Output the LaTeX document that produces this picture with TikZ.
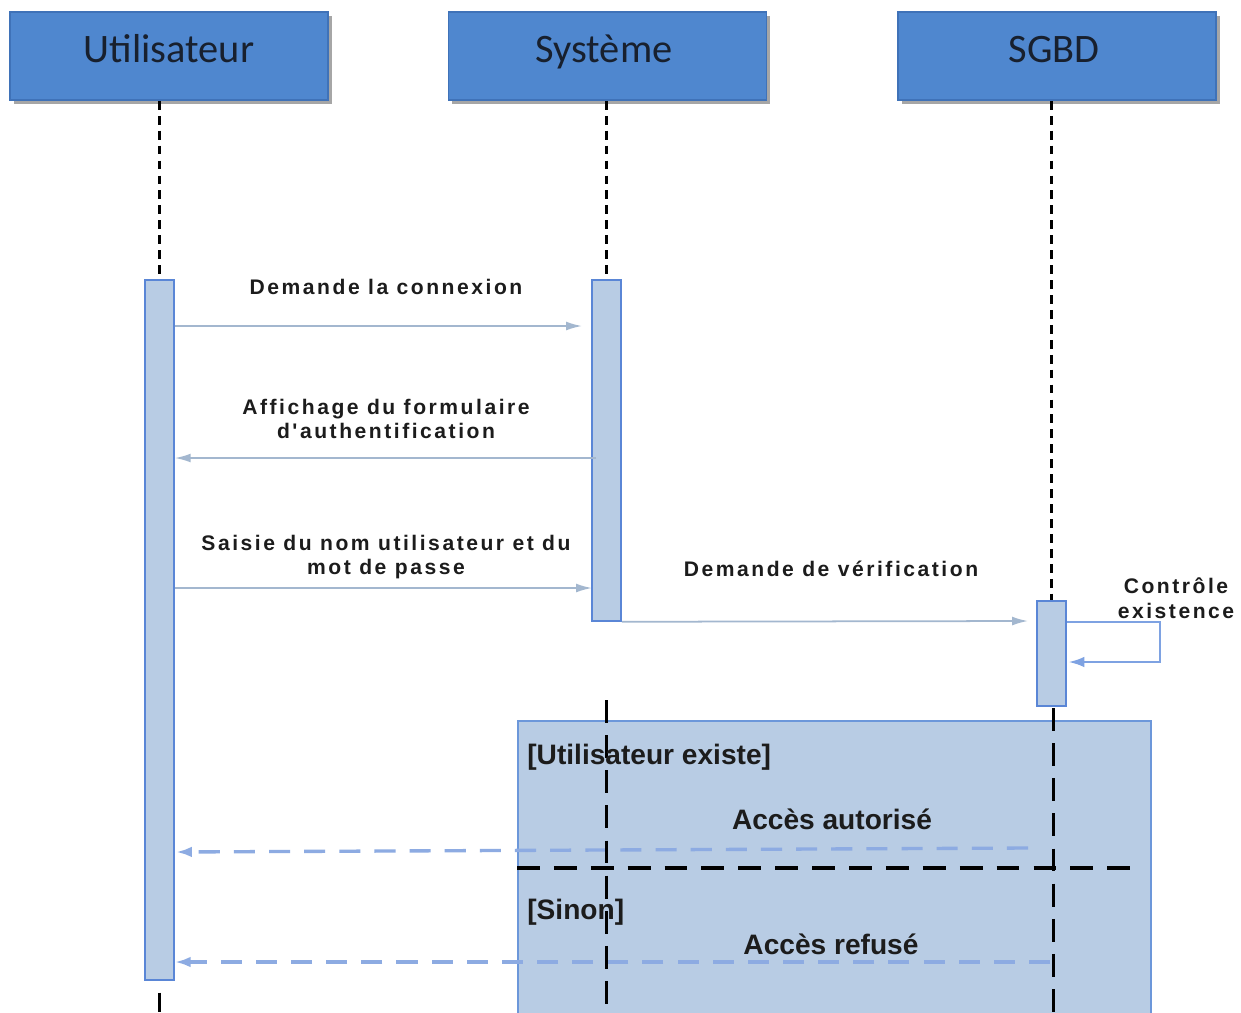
\documentclass[tikz,border=0pt]{standalone}
\usepackage{fontspec}
\setmainfont{Liberation Sans}
\newfontfamily\hdrfont{Carlito}
\newfontfamily\lblfont[LetterSpace=12]{Liberation Sans}
\usetikzlibrary{arrows.meta,shadows}
\definecolor{hdrfill}{HTML}{4F87CF}
\definecolor{hdrdraw}{HTML}{3F72B8}
\definecolor{actfill}{HTML}{B8CCE4}
\definecolor{actdraw}{HTML}{5A86D6}
\definecolor{msgcol}{HTML}{A3B7CF}
\definecolor{selfcol}{HTML}{7EA2E2}
\definecolor{framefill}{HTML}{B8CCE4}
\definecolor{framedraw}{HTML}{6C97DA}
\definecolor{replycol}{HTML}{8DABE2}
\definecolor{txt}{HTML}{1C1C1C}
\definecolor{hdrtxt}{HTML}{18202E}
\begin{document}
\begin{tikzpicture}[x=0.02cm,y=-0.02cm,
  hdr/.style={rectangle,fill=hdrfill,draw=hdrdraw,line width=1pt,minimum width=6.36cm,minimum height=1.76cm,
    drop shadow={shadow xshift=2.2pt,shadow yshift=-2.2pt,fill=black,opacity=0.35}},
  hdrtext/.style={font=\hdrfont\fontsize{23}{26}\selectfont,text=hdrtxt,inner sep=0pt,anchor=base},
  act/.style={rectangle,fill=actfill,draw=actdraw,line width=0.9pt,minimum width=0.58cm,inner sep=0pt},
  life/.style={black,line width=1.3pt,dash pattern=on 5pt off 3.5pt},
  lifein/.style={black,line width=1.7pt,dash pattern=on 13pt off 7pt},
  msg/.style={msgcol,line width=1pt,-{Latex[length=9pt,width=5pt]}},
  selfmsg/.style={selfcol,line width=1.3pt,-{Latex[length=9pt,width=6pt]}},
  reply/.style={replycol,line width=1.9pt,dash pattern=on 12pt off 8pt,-{Latex[length=9pt,width=6pt]}},
  lbl/.style={font=\lblfont\bfseries\fontsize{12}{15}\selectfont,text=txt,align=center,inner sep=0pt},
  guard/.style={font=\bfseries\fontsize{16}{19}\selectfont,text=txt,inner sep=0pt},
]
\clip (0,0) rectangle (1241,1012);
\fill[white] (0,0) rectangle (1241,1012);

% headers
\node[hdr] (u) at (169,56) {};
\node[hdr] (s) at (607.5,56) {};
\node[hdr] (d) at (1057,56) {};
\node[hdrtext] (ut) at (169,62) {Utilisateur};
\node[hdrtext] (st) at (604,62) {Système};
\node[hdrtext] (dt) at (1054,62) {SGBD};

% activation boxes
\node[act,minimum height=14cm] (ua) at (159.5,630) {};
\node[act,minimum height=6.82cm] (sa) at (606.5,450.5) {};
\node[act,minimum height=2.1cm] (da) at (1051.5,653.5) {};

% lifelines (top)
\draw[life] (u.south -| ua.north) -- (ua.north);
\draw[life] (s.south -| sa.north) -- (sa.north);
\draw[life] (d.south -| da.north) -- (da.north);
\coordinate (uend) at (159.5,1012);
\draw[black,line width=1.6pt] (ua.south) ++(0,12) -- (uend);

% messages
\coordinate (m1) at (582,326);
\draw[msg] (ua.east |- m1) -- (m1);
\node[lbl] (l1) at (386,287) {Demande la connexion};

\coordinate (m2s) at (596,458);
\draw[msg] (m2s) -- (ua.east |- m2s);
\node[lbl] (l2) at (386,419) {Affichage du formulaire\\[-1pt]d'authentification};

\coordinate (m3) at (592,588);
\draw[msg] (ua.east |- m3) -- (m3);
\node[lbl] (l3) at (386,557) {Saisie du nom utilisateur et du\\[-1pt]mot de passe};

\coordinate (m4) at (1028,621);
\draw[msg] (sa.south east) -- (m4);
\node[lbl] (l4) at (831,569) {Demande de vérification};

% self message
\coordinate (c1) at (1160,622);
\coordinate (c2) at (1160,662);
\draw[selfmsg] (da.east |- c1) -- (c1) -- (c2) -- ([xshift=1pt]da.east |- c2);
\node[lbl] (l5) at (1176,598) {Contrôle\\[-1pt]existence};

% alt frame
\node[rectangle,fill=framefill,draw=framedraw,line width=1pt,anchor=north west,
  minimum width=12.66cm,minimum height=6.0cm,inner sep=0pt] (alt) at (517,720) {};

% replies
\coordinate (r1) at (1028,848);
\coordinate (r1e) at (176,852);
\draw[reply] (r1) -- (r1e);
\coordinate (r2) at (1050,962);
\draw[reply] (r2) -- (ua.east |- r2);

% lifelines inside frame
\coordinate (sl1) at (606,700);
\coordinate (sl2) at (606,1012);
\draw[lifein] (sl1) -- (sl2);
\coordinate (dl1) at (1053,708);
\coordinate (dl2) at (1053,1012);
\draw[lifein] (dl1) -- (dl2);

% divider
\coordinate (dv1) at (517,868);
\coordinate (dv2) at (1140,868);
\draw[black,line width=1.9pt,dash pattern=on 13pt off 8pt] (dv1) -- (dv2);

% guard / message labels in frame
\node[guard,anchor=west] (g1) at (527,757) {[Utilisateur existe]};
\node[guard] (a1) at (832,819) {Accès autorisé};
\node[guard,anchor=west] (g2) at (527,912) {[Sinon]};
\node[guard] (a2) at (831,944) {Accès refusé};
\end{tikzpicture}
\end{document}
